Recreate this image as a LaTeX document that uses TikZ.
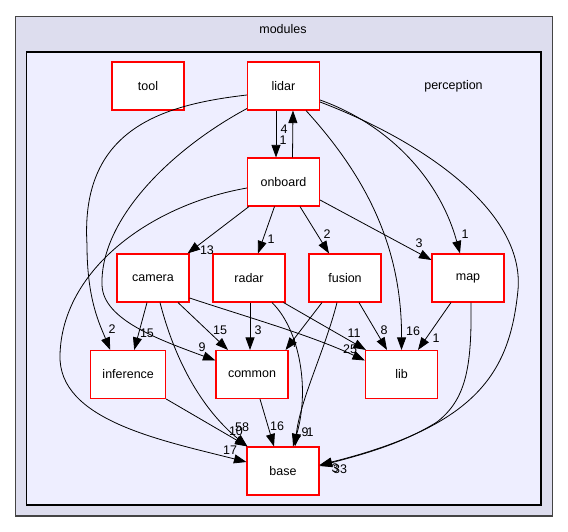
\documentclass[tikz,border=0pt]{standalone}
\usepackage{fontspec}
\setmainfont{Liberation Sans}
\usepackage{xcolor}
\usetikzlibrary{arrows.meta, positioning, calc}
\definecolor{modfill}{HTML}{DDDDEE}
\definecolor{percfill}{HTML}{EEEEFF}
\definecolor{modline}{HTML}{444444}

\begin{document}
\begin{tikzpicture}[x=1pt, y=-1pt,
  dirbox/.style={draw=red, line width=1.1pt, fill=white, minimum width=72pt, minimum height=48pt,
               inner sep=0pt, font=\fontsize{12.5}{14}\selectfont},
  dep/.style={-{Triangle[length=12.5pt,width=9pt]}, line width=0.8pt, black},
  cnt/.style={font=\fontsize{12.5}{14}\selectfont, inner sep=0pt},
  ttl/.style={font=\fontsize{12.5}{14}\selectfont, inner sep=0pt},
]
  \useasboundingbox (0,0) rectangle (568,532);

  % clusters
  \filldraw[fill=modfill, draw=modline, line width=1.6pt] (15.5,16.5) rectangle (552.5,516);
  \filldraw[fill=percfill, draw=black, line width=1.1pt] (26.5,52) rectangle (541,505);
  \node[ttl] (modules) at (283,29) {modules};
  \node[ttl] (perception) at (453.5,86) {perception};

  % directories
  \node[dirbox] (tool)    at (148,86)    {tool};
  \node[dirbox] (lidar)   at (283.5,86)  {lidar};
  \node[dirbox] (onboard) at (283.5,182) {onboard};
  \node[dirbox] (camera)  at (153,278)   {camera};
  \node[dirbox] (radar)   at (249,278)   {radar};
  \node[dirbox] (fusion)  at (345,278)   {fusion};
  \node[dirbox] (map)     at (468,278)   {map};
  \node[dirbox, minimum width=75pt] (inference) at (128.2,374.5) {inference};
  \node[dirbox] (common)  at (252,374.5) {common};
  \node[dirbox] (lib)     at (401.5,374.5) {lib};
  \node[dirbox] (base)    at (283,471)   {base};

  % dependencies
  \draw[dep] ($(lidar.south)+(-7.5,0)$) -- ($(onboard.north)+(-7.5,0)$);
  \draw[dep] ($(onboard.north)+(9,0)$) -- ($(lidar.south)+(9.5,0)$);
  \draw[dep] ($(lidar.west)+(0,9)$) .. controls (160,105) and (80,130) .. (87,245)
             .. controls (87,300) and (100,325) .. ($(inference.north)+(-18,0)$);
  \draw[dep] ($(lidar.south west)+(0,-2)$) .. controls (170,150) and (100,220) .. (102,285)
             .. controls (103,320) and (160,340) .. ($(common.west)+(0,-14)$);
  \draw[dep] ($(lidar.east)+(0,14)$) .. controls (390,125) and (440,180) .. ($(map.north)+(-8,0)$);
  \draw[dep] ($(lidar.east)+(0,16)$) .. controls (420,140) and (525,210) .. (518,290)
             .. controls (510,370) and (480,425) .. ($(base.east)+(0,-6)$);
  \draw[dep] ($(lidar.south)+(22.5,0)$) .. controls (360,170) and (402,240) .. (lib.north);

  \draw[dep] ($(onboard.west)+(0,6)$) .. controls (150,205) and (62,270) .. (60,355)
             .. controls (58,420) and (160,440) .. ($(base.west)+(0,-9)$);
  \draw[dep] ($(onboard.south west)+(2,0)$) -- ($(camera.north east)+(-2,0)$);
  \draw[dep] ($(onboard.south)+(-9,0)$) -- ($(radar.north)+(9,0)$);
  \draw[dep] ($(onboard.south)+(16.5,0)$) -- ($(fusion.north)+(-16,0)$);
  \draw[dep] ($(onboard.east)+(0,18)$) -- ($(map.west)+(0,-18)$);

  \draw[dep] ($(camera.south)+(-6,0)$) -- ($(inference.north)+(6,0)$);
  \draw[dep] ($(camera.south)+(25,0)$) -- ($(common.north)+(-24,0)$);
  \draw[dep] ($(camera.south)+(7,0)$) .. controls (180,380) and (215,420) .. ($(base.north west)+(1,0)$);
  \draw[dep] ($(camera.east)+(0,20)$) .. controls (250,318) and (310,335) .. ($(lib.west)+(0,-14)$);

  \draw[dep] ($(radar.south)+(1,0)$) -- ($(common.north)+(-2,0)$);
  \draw[dep] ($(radar.south)+(23,0)$) .. controls (300,330) and (310,390) .. ($(base.north)+(10,0)$);
  \draw[dep] ($(radar.south east)+(-2,0)$) -- ($(lib.north west)+(1,0)$);

  \draw[dep] ($(fusion.south)+(-23,0)$) -- ($(common.north east)+(-3,0)$);
  \draw[dep] ($(fusion.south)+(-8,0)$) .. controls (325,350) and (300,400) .. ($(base.north)+(12,0)$);
  \draw[dep] ($(fusion.south)+(14,0)$) -- ($(lib.north)+(-14.5,0)$);

  \draw[dep] ($(map.south)+(-17,0)$) -- ($(lib.north)+(16.5,0)$);
  \draw[dep] ($(map.south)+(3,0)$) .. controls (472,370) and (465,400) .. (437,422)
             .. controls (400,445) and (360,455) .. ($(base.east)+(0,-5)$);

  \draw[dep] (inference.south east) -- ($(base.north west)+(1,0)$);
  \draw[dep] ($(common.south)+(8,0)$) -- ($(base.north)+(-9,0)$);

  % counts
  \foreach \n/\x/\y/\t in {a/284/129/4, b/283/140/1, c/112/329/2, d/202/347/9, e/230/450/17,
      f/207/250/13, g/271/239/1, h/327/234/2, i/419/243/3, j/465/234/1, k/413/331/16,
      l/147/333/15, m/220/330/15, n/242/427/58, o/236/431/10, p/350/349/25, q/258/330/3,
      r/305/432/9, s/310/432/1, t/354/333/11, u/293/343/4, v/384/330/8, w/436/338/1,
      x/277/426/16, y/340/469/33, z/335/468/3} {
    \node[cnt] (cnt-\n) at (\x,\y) {\t};
  }
\end{tikzpicture}
\end{document}
